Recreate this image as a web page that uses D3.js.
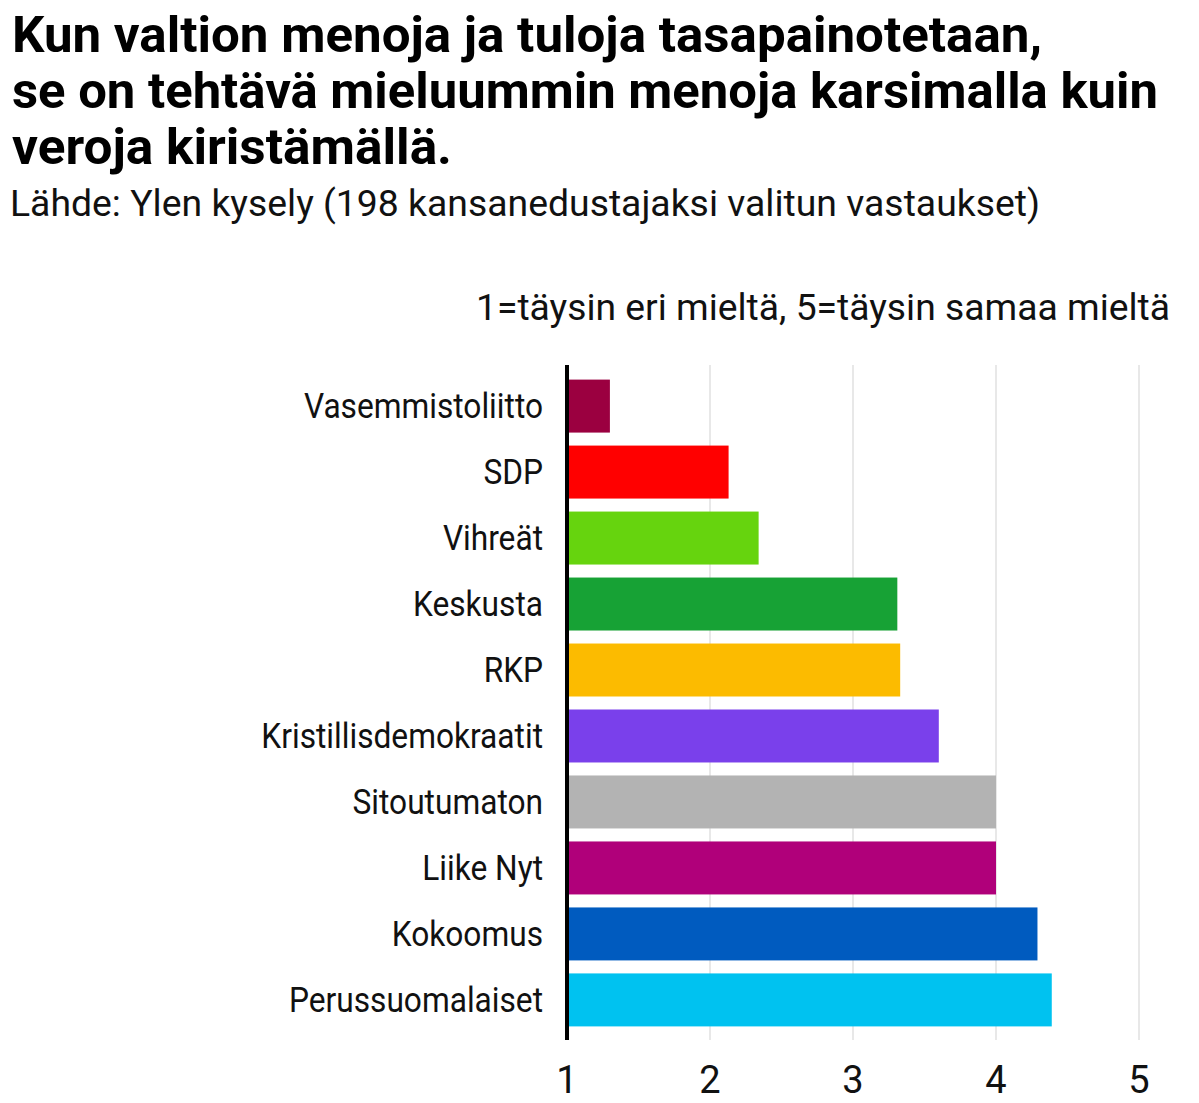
<!DOCTYPE html>
<html><head><meta charset="utf-8">
<script src="https://cdn.jsdelivr.net/npm/d3@7"></script>
<style>body{margin:0;background:#fff}</style>
</head><body><div id="chart"></div>
<script>
const parties = ["Vasemmistoliitto","SDP","Vihreät","Keskusta","RKP","Kristillisdemokraatit","Sitoutumaton","Liike Nyt","Kokoomus","Perussuomalaiset"];
const values = [1.3, 2.13, 2.34, 3.31, 3.33, 3.6, 4.0, 4.0, 4.29, 4.39];
const colors = ["#9b0040","#ff0000","#66d40e","#17a235","#fcbb00","#7a40eb","#b3b3b3","#b0007a","#005bbf","#00c2f0"];
const ticks = [1,2,3,4,5];

const W = 1199, H = 1103;
const svg = d3.select("#chart").append("svg").attr("width", W).attr("height", H);
const font = "Roboto, sans-serif";

// title + source, squeezed to look condensed
const titles = [
  ["Kun valtion menoja ja tuloja tasapainotetaan,", 52, 1030],
  ["se on tehtävä mieluummin menoja karsimalla kuin", 108, 1146],
  ["veroja kiristämällä.", 164, 440]
];
titles.forEach(t => svg.append("text").attr("x", 12).attr("y", t[1]).text(t[0])
  .attr("font-family", font).attr("font-weight", 700).attr("font-size", 50)
  .attr("textLength", t[2]).attr("lengthAdjust", "spacingAndGlyphs"));
svg.append("text").attr("x", 10).attr("y", 216).text("Lähde: Ylen kysely (198 kansanedustajaksi valitun vastaukset)")
  .attr("font-family", font).attr("font-size", 36).attr("fill", "#111")
  .attr("textLength", 1030).attr("lengthAdjust", "spacingAndGlyphs");
svg.append("text").attr("x", 1170).attr("y", 320).attr("text-anchor", "end")
  .text("1=täysin eri mieltä, 5=täysin samaa mieltä")
  .attr("font-family", font).attr("font-size", 36).attr("fill", "#111")
  .attr("textLength", 694).attr("lengthAdjust", "spacingAndGlyphs");

const x = d3.scaleLinear().domain([1, 5]).range([567, 1139]);
const y = d3.scaleBand().domain(parties).range([373, 1033]).paddingInner(0.197).paddingOuter(0.1);

// grid
svg.selectAll("line.grid").data(ticks.slice(1)).enter().append("line")
  .attr("x1", d => x(d)).attr("x2", d => x(d)).attr("y1", 365).attr("y2", 1040)
  .attr("stroke", "#e0e0e0").attr("stroke-width", 1.5);

svg.selectAll("rect").data(values).enter().append("rect")
  .attr("x", x(1)).attr("y", (d, i) => y(parties[i]))
  .attr("width", d => x(d) - x(1)).attr("height", y.bandwidth())
  .attr("fill", (d, i) => colors[i]);

svg.append("line").attr("x1", x(1)).attr("x2", x(1)).attr("y1", 365).attr("y2", 1040)
  .attr("stroke", "#000").attr("stroke-width", 4);

svg.selectAll("text.cat").data(parties).enter().append("text")
  .attr("x", 543).attr("y", d => y(d) + y.bandwidth() / 2 + 12)
  .attr("text-anchor", "end").attr("font-family", font).attr("font-size", 36)
  .attr("fill", "#111").text(d => d)
  .attr("transform", d => `translate(${543*0.12},0) scale(0.88,1)`);

svg.selectAll("text.tick").data(ticks).enter().append("text")
  .attr("x", d => x(d)).attr("y", 1093).attr("text-anchor", "middle")
  .attr("font-family", font).attr("font-size", 38).attr("fill", "#111").text(d => d);
</script></body></html>
